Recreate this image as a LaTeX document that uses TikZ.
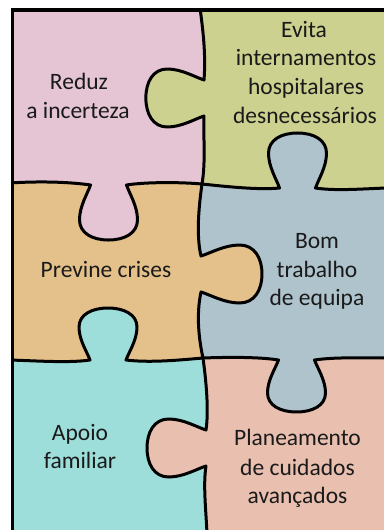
\documentclass[tikz,border=0pt]{standalone}
\usepackage{fontspec}
\setmainfont{Carlito}
\definecolor{pinkc}{RGB}{229,196,212}
\definecolor{greenc}{RGB}{204,209,143}
\definecolor{orangec}{RGB}{228,192,138}
\definecolor{bluec}{RGB}{174,195,204}
\definecolor{cyanc}{RGB}{157,222,218}
\definecolor{salmonc}{RGB}{233,192,176}
\definecolor{inkc}{RGB}{26,26,26}
\tikzset{
  tab/.style n args={6}{insert path={
    .. controls ({#1-21*(#3)+9*(#5)},{#2-21*(#4)+9*(#6)}) and ({#1-29*(#3)+22*(#5)},{#2-29*(#4)+22*(#6)}) .. ({#1-29*(#3)+36*(#5)},{#2-29*(#4)+36*(#6)})
    .. controls ({#1-29*(#3)+50*(#5)},{#2-29*(#4)+50*(#6)}) and ({#1-16*(#3)+57*(#5)},{#2-16*(#4)+57*(#6)}) .. ({#1+57*(#5)},{#2+57*(#6)})
    .. controls ({#1+16*(#3)+57*(#5)},{#2+16*(#4)+57*(#6)}) and ({#1+29*(#3)+50*(#5)},{#2+29*(#4)+50*(#6)}) .. ({#1+29*(#3)+36*(#5)},{#2+29*(#4)+36*(#6)})
    .. controls ({#1+29*(#3)+22*(#5)},{#2+29*(#4)+22*(#6)}) and ({#1+21*(#3)+9*(#5)},{#2+21*(#4)+9*(#6)}) .. ({#1+18*(#3)},{#2+18*(#4)})
  }},
  edge/.style={draw=black, line width=3pt, line join=round, line cap=round},
  frameline/.style={draw=black, line width=3.5pt},
  label/.style={font=\fontsize{23.5}{28.7}\selectfont, text=inkc, inner sep=0pt, anchor=base}
}
\def\colline{(200,8) .. controls (203,30) and (206,55) .. (204,80)
  [tab={204}{98}{0}{1}{-1.02}{0}]
  .. controls (203,135) and (206,160) .. (202,184)
  .. controls (199,205) and (196,235) .. (201,256)
  [tab={201}{274}{0}{1}{1.07}{0}]
  .. controls (196,315) and (199,340) .. (203,358)
  .. controls (206,380) and (209,410) .. (206,430)
  [tab={206}{448}{0}{1}{-1.035}{0}]
  .. controls (203,485) and (206,510) .. (207,534)}
\def\ldivone{(10,183) .. controls (40,181) and (70,182) .. (90.5,185)
  [tab={108.5}{185}{1}{0}{0}{0.965}]
  .. controls (145,182) and (180,182) .. (202,184)}
\def\rdivone{(202,184) .. controls (230,187) and (260,190) .. (279.5,188)
  [tab={297.5}{188}{1}{0}{0}{-0.965}]
  .. controls (335,191) and (360,189) .. (386,188)}
\def\ldivtwo{(10,360) .. controls (40,361) and (70,363) .. (90,360)
  [tab={108}{360}{1}{0}{0}{-0.912}]
  .. controls (150,363) and (180,360) .. (203,358)}
\def\rdivtwo{(203,358) .. controls (230,357) and (260,357) .. (278.5,360)
  [tab={296.5}{360}{1}{0}{0}{0.912}]
  .. controls (335,357) and (360,358) .. (386,358)}
\begin{document}
\begin{tikzpicture}[x=1pt,y=-1pt]
\useasboundingbox (0,0) rectangle (383,530);
\fill[white] (0,0) rectangle (383,530);
\begin{scope}
  \clip (12,10) rectangle (390,540);
  \fill[salmonc] (-5,-5) rectangle (390,540);
  \fill[bluec] (-5,-5) -- (-5,358) -- \rdivtwo -- (390,-5) -- cycle;
  \fill[greenc] (-5,-5) -- (-5,184) -- \rdivone -- (390,-5) -- cycle;
  \begin{scope}
    \clip (-5,-5) -- (200,-5) -- \colline -- (-5,540) -- cycle;
    \fill[cyanc] (-5,-5) rectangle (390,540);
    \fill[orangec] (-5,-5) -- (-5,360) -- \ldivtwo -- (390,358) -- (390,-5) -- cycle;
    \fill[pinkc] (-5,-5) -- (-5,183) -- \ldivone -- (390,184) -- (390,-5) -- cycle;
  \end{scope}
  \draw[edge] \ldivone;
  \draw[edge] \ldivtwo;
  \draw[edge] \rdivone;
  \draw[edge] \rdivtwo;
  \draw[edge] \colline;
\end{scope}
\draw[frameline] (12.5,540) -- (12.5,10) -- (390,10);
% labels
\node[label] (reduzA) at (79,89) {Reduz};
\node[label] (reduzB) at (78,118) {a incerteza};
\node[label] (evitaA) at (304,37) {Evita};
\node[label] (evitaB) at (306,65.7) {internamentos};
\node[label] (evitaC) at (306,94.4) {hospitalares};
\node[label] (evitaD) at (305,123) {desnecessários};
\node[label] (previne) at (106,277) {Previne crises};
\node[label] (bomA) at (317,248) {Bom};
\node[label] (bomB) at (317,277) {trabalho};
\node[label] (bomC) at (317,305) {de equipa};
\node[label] (apoioA) at (80,440) {Apoio};
\node[label] (apoioB) at (80,468) {familiar};
\node[label] (planA) at (297.5,445) {Planeamento};
\node[label] (planB) at (297.5,475) {de cuidados};
\node[label] (planC) at (297.5,503) {avançados};
\end{tikzpicture}
\end{document}
